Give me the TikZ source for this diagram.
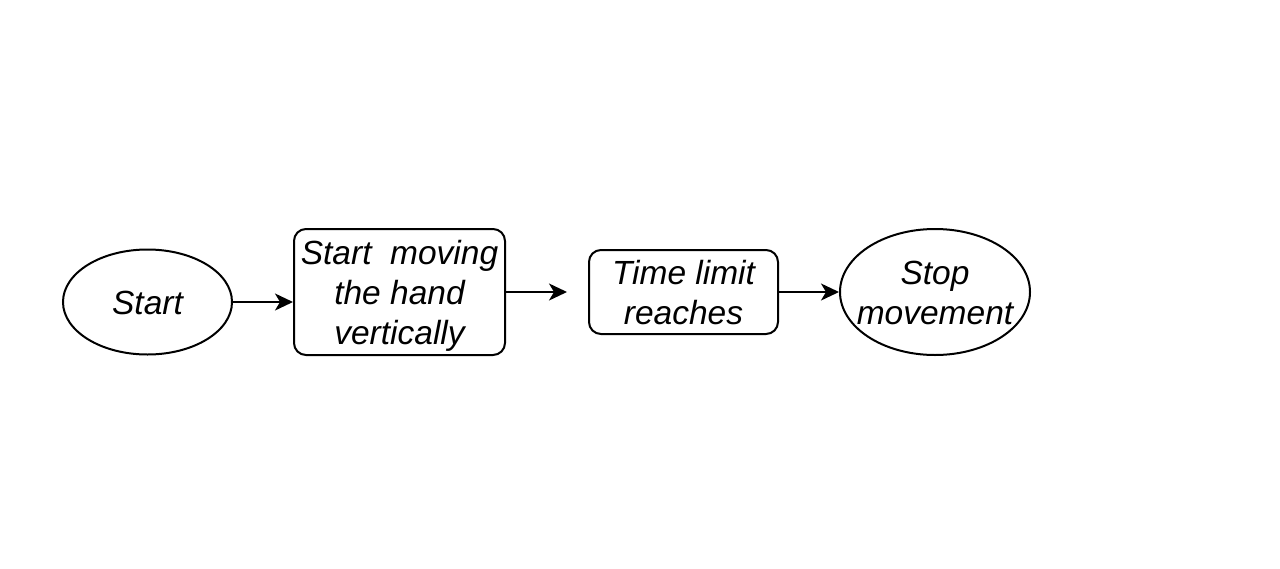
\documentclass[tikz,border=0pt]{standalone}
\usepackage{fontspec}
\setmainfont{Liberation Sans}
\usetikzlibrary{shapes.geometric,arrows.meta}
\begin{document}
\begin{tikzpicture}[x=1pt,y=-1pt,
  txt/.style={inner sep=0pt, align=center, font=\fontsize{33.5}{40}\selectfont\itshape},
  base/.style={draw=black, line width=2pt, inner sep=0pt},
  oval/.style={base, ellipse},
  rbox/.style={base, rectangle, rounded corners=12pt},
  arr/.style={line width=2pt, -{Stealth[length=18pt,width=17pt,inset=5pt]}}]
\useasboundingbox[fill=white] (0,0) rectangle (1280,568);
\node[oval, minimum width=169pt, minimum height=105pt,
  label={[txt,yshift=-1pt]center:Start}] (start) at (147.5,302) {};
\node[rbox, minimum width=211pt, minimum height=126pt,
  label={[txt,yshift=-4pt]center:Start\ \ moving\\the hand\\vertically}] (move) at (399.5,292) {};
\node[rbox, minimum width=189pt, minimum height=84pt,
  label={[txt,yshift=-1pt]center:Time limit\\reaches}] (limit) at (683.5,292) {};
\node[oval, minimum width=190pt, minimum height=126pt,
  label={[txt,yshift=-1pt]center:Stop\\movement}] (stop) at (935,292) {};
\coordinate (free) at (567,292);
\draw[arr] (start.east) -- (move.west |- start.east);
\draw[arr] (move.east) -- (free);
\draw[arr] (limit.east) -- (stop.west);
\end{tikzpicture}
\end{document}
